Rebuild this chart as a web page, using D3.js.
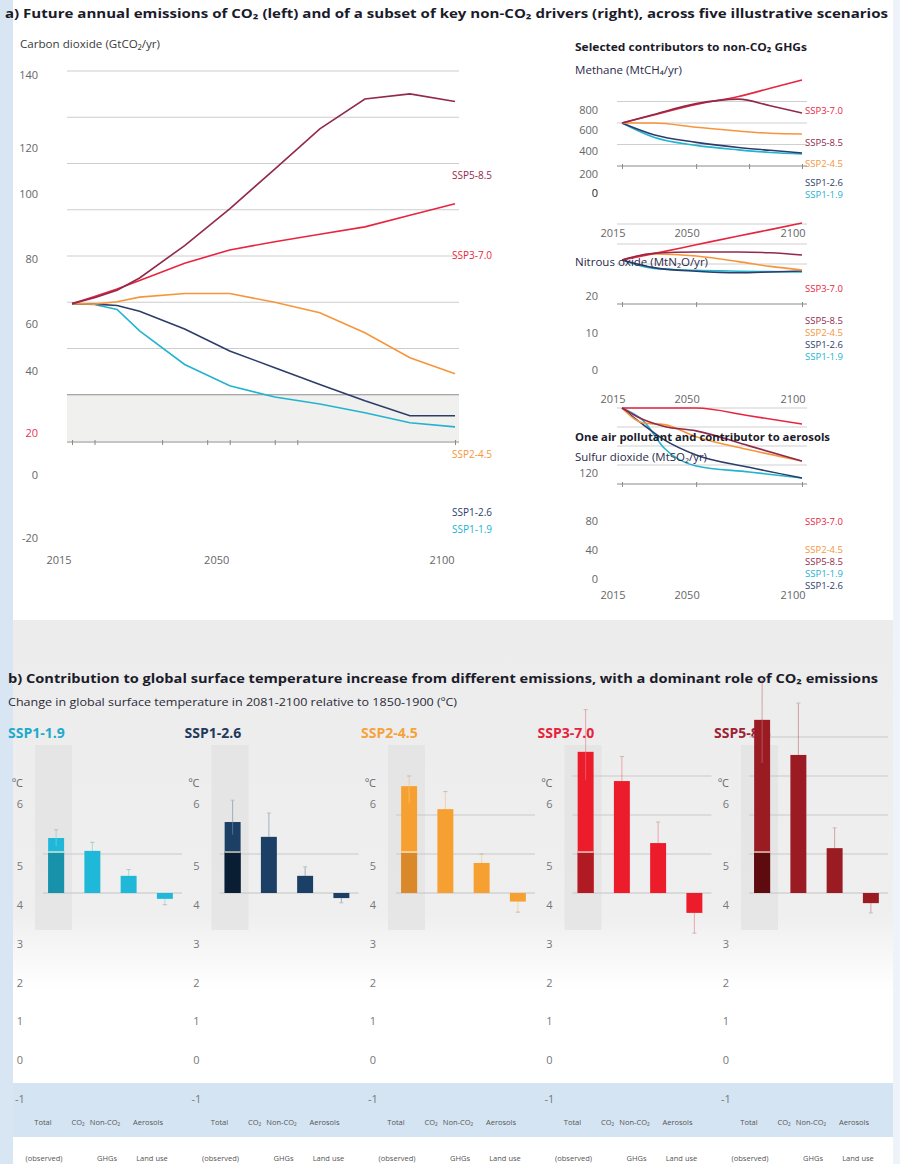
<!DOCTYPE html>
<html>
<head>
<meta charset="utf-8">
<script src="https://cdn.jsdelivr.net/npm/d3@7"></script>
<style>
  body { margin: 0; background: #fff; }
  svg text { font-family: "Open Sans", "DejaVu Sans", sans-serif; }
</style>
</head>
<body>
<div id="chart"></div>
<script>
// Page size
const width = 900;
const height = 1164;

// Scenarios
const scenarios = ["SSP1-1.9", "SSP1-2.6", "SSP2-4.5", "SSP3-7.0", "SSP5-8.5"];

// CO2 emissions (GtCO2/yr)
const co2Years = [2015, 2020, 2025, 2030, 2040, 2050, 2060, 2070, 2080, 2090, 2100];
const co2_ssp119 = [39.4, 39.0, 36.9, 27.6, 13.1, 3.9, -1.0, -4.0, -7.8, -12.1, -13.9];
const co2_ssp126 = [39.4, 39.2, 38.6, 36.1, 28.4, 18.9, 11.7, 4.4, -2.6, -9.1, -9.1];
const co2_ssp245 = [39.4, 39.2, 40.2, 42.2, 43.8, 43.8, 40.0, 35.5, 26.8, 16.0, 9.1];
const co2_ssp370 = [39.4, 42.5, 45.7, 49.4, 56.9, 62.6, 66.2, 69.4, 72.6, 77.6, 82.6];
const co2_ssp585 = [39.4, 42.0, 45.2, 50.5, 64.5, 80.4, 97.6, 115.0, 127.9, 130.1, 126.8];
const co2Ticks = [-20, 0, 20, 40, 60, 80, 100, 120, 140];

// Methane (MtCH4/yr)
const ch4Years = [2015, 2030, 2050, 2070, 2085, 2100];
const ch4_ssp119 = [400, 268, 192, 150, 126, 112];
const ch4_ssp126 = [400, 291, 220, 172, 146, 121];
const ch4_ssp245 = [400, 400, 361, 325, 305, 298];
const ch4_ssp370 = [400, 475, 572, 646, 723, 800];
const ch4_ssp585 = [400, 479, 580, 622, 560, 493];
const ch4Ticks = [0, 200, 400, 600, 800];

// Nitrous oxide (MtN2O/yr)
const n2oYears = [2015, 2030, 2050, 2070, 2085, 2100];
const n2o_ssp119 = [11.0, 8.9, 8.4, 8.2, 8.1, 8.0];
const n2o_ssp126 = [11.0, 9.1, 8.2, 7.8, 8.0, 8.25];
const n2o_ssp245 = [11.0, 12.5, 12.0, 10.6, 9.4, 8.5];
const n2o_ssp370 = [11.0, 12.6, 14.8, 17.0, 18.6, 20.25];
const n2o_ssp585 = [11.0, 12.7, 13.0, 13.0, 12.8, 12.25];
const n2oTicks = [0, 10, 20];

// Sulfur dioxide (MtSO2/yr)
const so2Years = [2015, 2025, 2035, 2050, 2075, 2100];
const so2_ssp119 = [120, 100, 56.4, 28.4, 19.0, 9.5];
const so2_ssp126 = [120, 93.6, 69.6, 45.8, 26.4, 9.5];
const so2_ssp245 = [120, 96.3, 93.7, 74.7, 54.0, 36.3];
const so2_ssp370 = [120, 120, 120, 120, 107.8, 94.7];
const so2_ssp585 = [120, 101.7, 90.9, 83.9, 60.2, 36.3];
const so2Ticks = [0, 40, 80, 120];

const yearTicks = [2015, 2050, 2100];

// Warming contributions in 2081-2100 (degC)
const categories = ["Total", "CO₂", "Non-CO₂ GHGs", "Aerosols, land use"];
const totalWarming = [1.41, 1.82, 2.74, 3.62, 4.44];
const co2Warming = [1.08, 1.44, 2.15, 2.87, 3.54];
const nonCo2Warming = [0.44, 0.44, 0.77, 1.28, 1.15];
const aerosolWarming = [-0.15, -0.13, -0.22, -0.51, -0.26];
const observedWarming = 1.05;
const totalLow = [1.2, 1.5, 2.3, 2.9, 3.33];
const totalHigh = [1.62, 2.38, 3.0, 4.7, 5.46];
const co2High = [1.3, 2.05, 2.6, 3.5, 4.87];
const nonCo2High = [0.6, 0.67, 1.0, 1.82, 1.67];
const aerosolLow = [-0.3, -0.25, -0.49, -1.03, -0.51];
const tempTicks = [-1, 0, 1, 2, 3, 4, 5, 6];
const catLabelsTop = ["Total", "CO₂", "Non-CO₂", "Aerosols"];
const catLabelsBottom = ["(observed)", "GHGs", "Land use"];

// Colours
const lineColor = {"SSP1-1.9": "#23b3cf", "SSP1-2.6": "#2d3d6b", "SSP2-4.5": "#f7953b", "SSP3-7.0": "#e8253f", "SSP5-8.5": "#92294a"};
const barColor = {"SSP1-1.9": "#1fb8d8", "SSP1-2.6": "#1c3f66", "SSP2-4.5": "#f7a032", "SSP3-7.0": "#ec1c2a", "SSP5-8.5": "#9a1b22"};
const barDark = {"SSP1-1.9": "#1891aa", "SSP1-2.6": "#0a1e33", "SSP2-4.5": "#d9882a", "SSP3-7.0": "#b01a22", "SSP5-8.5": "#5e0b10"};
const headColor = {"SSP1-1.9": "#1faacb", "SSP1-2.6": "#1f3a5c", "SSP2-4.5": "#f5a33b", "SSP3-7.0": "#e5243b", "SSP5-8.5": "#9b2335"};

const svg = d3.select("#chart").append("svg")
  .attr("width", width)
  .attr("height", height);

// Backgrounds
const defs = svg.append("defs");
const grad = defs.append("linearGradient").attr("id", "fadeB").attr("x1", 0).attr("x2", 0).attr("y1", 0).attr("y2", 1);
grad.append("stop").attr("offset", 0).attr("stop-color", "#ececec");
grad.append("stop").attr("offset", 0.8).attr("stop-color", "#efefef");
grad.append("stop").attr("offset", 1).attr("stop-color", "#ffffff");
svg.append("rect").attr("x", 13).attr("y", 620).attr("width", 880).attr("height", 370).attr("fill", "url(#fadeB)");
svg.append("rect").attr("x", 0).attr("y", 1083).attr("width", width).attr("height", 54).attr("fill", "#d5e4f2");
svg.append("rect").attr("x", 0).attr("y", 0).attr("width", 13).attr("height", height).attr("fill", "#d8e6f4");
svg.append("rect").attr("x", 893).attr("y", 0).attr("width", 7).attr("height", height).attr("fill", "#edf3f9");

// Helper: add text with a fixed width
function addText(x, y, str, size, opts = {}) {
  const t = svg.append("text")
    .attr("x", x).attr("y", y)
    .attr("font-size", size)
    .attr("font-weight", opts.bold ? "bold" : "normal")
    .attr("fill", opts.fill || "#333")
    .attr("text-anchor", opts.anchor || "start")
    .text(str);
  if (opts.len) t.attr("textLength", opts.len).attr("lengthAdjust", "spacingAndGlyphs");
  return t;
}

// Helper: draw one set of scenario lines
function drawLines(years, series, xs, ys, curve) {
  const line = d3.line()
    .x((d, i) => xs(years[i]))
    .y(d => ys(d))
    .curve(curve || d3.curveMonotoneX);
  svg.append("g").selectAll("path")
    .data(scenarios.map(s => ({s: s, v: series[s]})))
    .enter()
    .append("path")
      .attr("d", d => line(d.v))
      .attr("fill", "none")
      .attr("stroke", d => lineColor[d.s])
      .attr("stroke-width", 1.6);
}

function drawLineLabels(pos, x, size) {
  svg.append("g").selectAll("text")
    .data(Object.keys(pos))
    .enter()
    .append("text")
      .attr("x", x)
      .attr("y", d => pos[d] + 3.5)
      .attr("font-size", size || 10)
      .attr("fill", d => lineColor[d])
      .text(d => d);
}

function gridLines(values, ys, x0, x1, color) {
  svg.append("g").selectAll("line")
    .data(values)
    .enter()
    .append("line")
      .attr("x1", x0).attr("x2", x1)
      .attr("y1", d => ys(d)).attr("y2", d => ys(d))
      .attr("stroke", color || "#cfcfcf");
}

function xAxisTicks(xs, y, ticks, x0, x1) {
  svg.append("line").attr("x1", x0).attr("x2", x1).attr("y1", y).attr("y2", y).attr("stroke", "#8a8a8a");
  const g = svg.append("g")
    .attr("transform", `translate(0,${y - 2})`)
    .call(d3.axisBottom(xs).tickValues(ticks).tickSize(5).tickFormat(""));
  g.select(".domain").remove();
  g.selectAll(".tick line").attr("stroke", "#8a8a8a");
}

function yLabels(ticks, labelScale, x, colorFn) {
  svg.append("g").selectAll("text")
    .data(ticks)
    .enter()
    .append("text")
      .attr("x", x)
      .attr("y", d => labelScale(d) + 4)
      .attr("text-anchor", "end")
      .attr("font-size", 11)
      .attr("fill", d => colorFn ? colorFn(d) : "#666")
      .text(d => d);
}

function xLabels(labelScale, y) {
  svg.append("g").selectAll("text")
    .data(yearTicks)
    .enter()
    .append("text")
      .attr("x", d => labelScale(d))
      .attr("y", y + 4)
      .attr("text-anchor", "middle")
      .attr("font-size", 11)
      .attr("fill", "#666")
      .text(d => d);
}

// ---------- PANEL A ----------
addText(5, 18, "a) Future annual emissions of CO₂ (left) and of a subset of key non-CO₂ drivers (right), across five illustrative scenarios", 12, {bold: true, fill: "#1b1b2a", len: 883});
addText(20, 48, "Carbon dioxide (GtCO₂/yr)", 11, {fill: "#3a3a3a", len: 140});

// CO2 chart
const xCo2 = d3.scaleLinear().domain([2015, 2100]).range([72, 455]);
const yCo2 = d3.scaleLinear().domain([-20, 140]).range([441, 71]);
const co2LabelY = d3.scaleLinear().domain(co2Ticks).range([538, 475, 433, 371, 324, 259, 194, 148, 75]);
const co2LabelX = d3.scaleLinear().domain([2015, 2100]).range([59, 442]);

svg.append("rect")
  .attr("x", 67).attr("y", yCo2(0))
  .attr("width", 392).attr("height", yCo2(-20) - yCo2(0))
  .attr("fill", "#f0f0ee");
gridLines(d3.range(20, 141, 20), yCo2, 67, 459, "#cdcdcd");
gridLines([0], yCo2, 67, 459, "#8c8c8c");
xAxisTicks(xCo2, 442, [2015, 2020, 2035, 2045, 2050, 2060, 2065, 2100], 67, 459);

drawLines(co2Years, {
  "SSP1-1.9": co2_ssp119, "SSP1-2.6": co2_ssp126, "SSP2-4.5": co2_ssp245,
  "SSP3-7.0": co2_ssp370, "SSP5-8.5": co2_ssp585
}, xCo2, yCo2, d3.curveLinear);
yLabels(co2Ticks, co2LabelY, 38, d => d === 20 ? "#e8305a" : "#666");
xLabels(co2LabelX, 560);
drawLineLabels({"SSP5-8.5": 175, "SSP3-7.0": 255, "SSP2-4.5": 454, "SSP1-2.6": 512, "SSP1-1.9": 529}, 452);

// Non-CO2 charts
const xGas = d3.scaleLinear().domain([2015, 2100]).range([622, 802]);
const gasLabelX = d3.scaleLinear().domain([2015, 2100]).range([613, 793]);

// Methane
const yCh4 = d3.scaleLinear().domain([0, 800]).range([166, 80]);
const ch4LabelY = d3.scaleLinear().domain(ch4Ticks).range([193, 174, 151, 130, 110]);
gridLines([200, 400, 600], yCh4, 617, 807);
xAxisTicks(xGas, yCh4(0), [2015, 2050, 2075, 2100], 617, 807);
drawLines(ch4Years, {
  "SSP1-1.9": ch4_ssp119, "SSP1-2.6": ch4_ssp126, "SSP2-4.5": ch4_ssp245,
  "SSP3-7.0": ch4_ssp370, "SSP5-8.5": ch4_ssp585
}, xGas, yCh4);
yLabels(ch4Ticks, ch4LabelY, 598, d => d === 0 ? "#222" : "#666");
xLabels(gasLabelX, 233);
drawLineLabels({"SSP3-7.0": 110, "SSP5-8.5": 142, "SSP2-4.5": 163, "SSP1-2.6": 182, "SSP1-1.9": 194}, 805, 9.5);
addText(575, 51, "Selected contributors to non-CO₂ GHGs", 11, {bold: true, fill: "#1b1b2a", len: 232});
addText(575, 74, "Methane (MtCH₄/yr)", 10.5, {fill: "#2a2a4a", len: 107});

// Nitrous oxide
const yN2o = d3.scaleLinear().domain([0, 20]).range([304, 224]);
const n2oLabelY = d3.scaleLinear().domain(n2oTicks).range([370, 333, 296]);
gridLines([10, 15, 20], yN2o, 617, 807);
xAxisTicks(xGas, yN2o(0), yearTicks, 617, 807);
drawLines(n2oYears, {
  "SSP1-1.9": n2o_ssp119, "SSP1-2.6": n2o_ssp126, "SSP2-4.5": n2o_ssp245,
  "SSP3-7.0": n2o_ssp370, "SSP5-8.5": n2o_ssp585
}, xGas, yN2o);
yLabels(n2oTicks, n2oLabelY, 598);
xLabels(gasLabelX, 399);
drawLineLabels({"SSP3-7.0": 288, "SSP5-8.5": 320, "SSP2-4.5": 332, "SSP1-2.6": 344, "SSP1-1.9": 356}, 805, 9.5);
addText(575, 266, "Nitrous oxide (MtN₂O/yr)", 10.5, {fill: "#2a2a4a", len: 133});

// Sulfur dioxide
const ySo2 = d3.scaleLinear().domain([0, 120]).range([484, 408]);
const so2LabelY = d3.scaleLinear().domain(so2Ticks).range([579, 550, 521, 473]);
gridLines([30, 60, 90, 120], ySo2, 617, 807);
xAxisTicks(xGas, ySo2(0), yearTicks, 617, 807);
drawLines(so2Years, {
  "SSP1-1.9": so2_ssp119, "SSP1-2.6": so2_ssp126, "SSP2-4.5": so2_ssp245,
  "SSP3-7.0": so2_ssp370, "SSP5-8.5": so2_ssp585
}, xGas, ySo2);
yLabels(so2Ticks, so2LabelY, 598);
xLabels(gasLabelX, 595);
drawLineLabels({"SSP3-7.0": 521, "SSP2-4.5": 549, "SSP5-8.5": 561, "SSP1-1.9": 573, "SSP1-2.6": 585}, 805, 9.5);
addText(575, 441, "One air pollutant and contributor to aerosols", 11, {bold: true, fill: "#1b1b2a", len: 255});
addText(575, 461, "Sulfur dioxide (MtSO₂/yr)", 10.5, {fill: "#2a2a4a", len: 132});

// ---------- PANEL B ----------
addText(8, 683, "b) Contribution to global surface temperature increase from different emissions, with a dominant role of CO₂ emissions", 13, {bold: true, fill: "#1b1b2a", len: 870});
addText(8, 706, "Change in global surface temperature in 2081-2100 relative to 1850-1900 (ºC)", 11, {fill: "#2a2a3a", len: 449});

const panelX = d3.scalePoint().domain(scenarios).range([20, 726]);
const yBar = d3.scaleLinear().domain([0, 1]).range([893, 854]);
const tempLabelY = d3.scaleLinear().domain([-1, 4, 5, 6]).range([1099, 905, 866, 804]);

scenarios.forEach((s, i) => {
  const p = panelX(s);
  const g = svg.append("g");
  const xb = d3.scaleBand().domain(categories).range([p + 18, p + 163]).paddingInner(0.56).paddingOuter(0.28);
  const values = [totalWarming[i], co2Warming[i], nonCo2Warming[i], aerosolWarming[i]];

  // shaded column behind total
  g.append("rect").attr("x", p + 15).attr("y", 745).attr("width", 37).attr("height", 185)
    .attr("fill", "#e0e0e0").attr("opacity", 0.6);

  // heading
  g.append("text").attr("x", p - 12).attr("y", 738)
    .attr("font-size", 14).attr("font-weight", "bold").attr("fill", headColor[s]).text(s);

  // gridlines
  g.selectAll(".grid").data(d3.range(1, Math.floor(totalWarming[i]) + 1)).enter()
    .append("line").attr("class", "grid")
      .attr("x1", p + 23).attr("x2", p + 162)
      .attr("y1", d => yBar(d)).attr("y2", d => yBar(d))
      .attr("stroke", "#c9c9c9");
  g.append("line").attr("x1", p + 23).attr("x2", p + 162)
    .attr("y1", yBar(0)).attr("y2", yBar(0)).attr("stroke", "#c4c4c4");

  // axis labels
  g.append("text").attr("x", p - 8).attr("y", 787).attr("font-size", 11).attr("fill", "#666").text("ºC");
  g.selectAll(".tl").data(tempTicks).enter()
    .append("text").attr("class", "tl")
      .attr("x", p).attr("y", d => tempLabelY(d) + 4)
      .attr("text-anchor", "middle").attr("font-size", 11).attr("fill", "#777")
      .text(d => d);

  // uncertainty whiskers (drawn behind the bars)
  const ranges = [
    [categories[0], totalLow[i], totalHigh[i]],
    [categories[1], co2Warming[i], co2High[i]],
    [categories[2], nonCo2Warming[i], nonCo2High[i]],
    [categories[3], aerosolLow[i], aerosolWarming[i]]
  ];
  const cx = d => xb(d[0]) + xb.bandwidth() / 2;
  g.selectAll(".wh").data(ranges).enter()
    .append("line").attr("class", "wh")
      .attr("x1", cx).attr("x2", cx)
      .attr("y1", d => yBar(d[1])).attr("y2", d => yBar(d[2]))
      .attr("stroke", barColor[s]).attr("stroke-opacity", 0.35).attr("stroke-width", 1);
  g.selectAll(".cap").data(ranges).enter()
    .append("line").attr("class", "cap")
      .attr("x1", d => cx(d) - 2).attr("x2", d => cx(d) + 2)
      .attr("y1", (d, j) => yBar(j === 3 ? d[1] : d[2])).attr("y2", (d, j) => yBar(j === 3 ? d[1] : d[2]))
      .attr("stroke", "#bdbdbd");

  // bars
  g.selectAll(".bar").data(categories).enter()
    .append("rect").attr("class", "bar")
      .attr("x", d => xb(d))
      .attr("y", (d, j) => Math.min(yBar(values[j]), yBar(0)))
      .attr("width", xb.bandwidth())
      .attr("height", (d, j) => Math.abs(yBar(values[j]) - yBar(0)))
      .attr("fill", barColor[s]);

  // observed part of total
  g.append("rect")
    .attr("x", xb("Total")).attr("y", yBar(observedWarming))
    .attr("width", xb.bandwidth()).attr("height", yBar(0) - yBar(observedWarming))
    .attr("fill", barDark[s]);
  g.append("line")
    .attr("x1", xb("Total")).attr("x2", xb("Total") + xb.bandwidth())
    .attr("y1", yBar(observedWarming)).attr("y2", yBar(observedWarming))
    .attr("stroke", "#fff6e0").attr("stroke-width", 1.2);

  // faint whisker through the total bar
  g.append("line")
    .attr("x1", cx(ranges[0])).attr("x2", cx(ranges[0]))
    .attr("y1", yBar(totalLow[i])).attr("y2", yBar(totalWarming[i]))
    .attr("stroke", "#fff").attr("stroke-opacity", 0.25);

  // category labels
  const topOff = [23, 58, 85, 128];
  const botOff = [24, 87, 132];
  g.selectAll(".ct").data(catLabelsTop).enter()
    .append("text").attr("class", "ct")
      .attr("x", (d, j) => p + topOff[j]).attr("y", 1125)
      .attr("text-anchor", "middle").attr("font-size", 7.5).attr("fill", "#555")
      .text(d => d);
  g.selectAll(".cb").data(catLabelsBottom).enter()
    .append("text").attr("class", "cb")
      .attr("x", (d, j) => p + botOff[j]).attr("y", 1161)
      .attr("text-anchor", "middle").attr("font-size", 7.5).attr("fill", "#555")
      .text(d => d);
});
</script>
</body>
</html>
